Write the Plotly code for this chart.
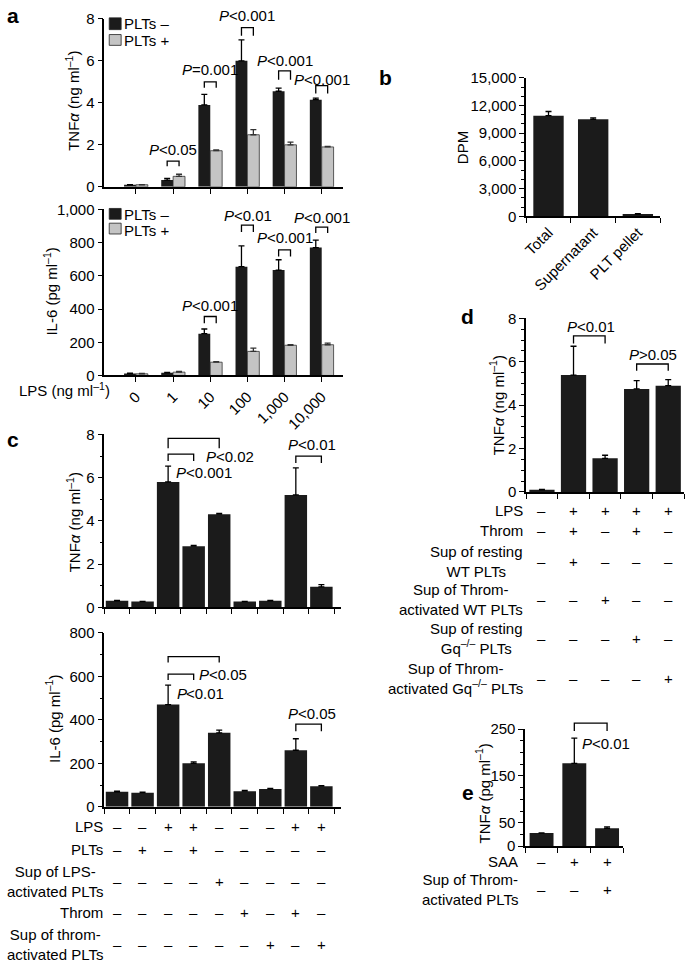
import plotly.graph_objects as go

W, H = 685, 971
FONT = "Liberation Sans, Arial, Helvetica, sans-serif"
BLACK = "#1b1b1b"
GRAY = "#c4c4c4"

# ---------------- data ----------------
# panel a
a_doses = ["0", "1", "10", "100", "1,000", "10,000"]
a_tnf_minus = [0.1, 0.32, 3.9, 6.0, 4.55, 4.15]
a_tnf_minus_err = [0.0, 0.08, 0.5, 1.0, 0.15, 0.07]
a_tnf_plus = [0.1, 0.5, 1.72, 2.48, 2.0, 1.9]
a_tnf_plus_err = [0.0, 0.1, 0.04, 0.24, 0.13, 0.03]
a_il6_minus = [12, 16, 252, 655, 635, 770]
a_il6_minus_err = [2, 3, 28, 125, 62, 45]
a_il6_plus = [10, 20, 80, 145, 182, 185]
a_il6_plus_err = [2, 4, 3, 20, 3, 10]
a_legend = ["PLTs \u2013", "PLTs +"]

# panel b
b_cats = ["Total", "Supernatant", "PLT pellet"]
b_vals = [10900, 10500, 250]
b_err = [450, 150, 30]

# panel c
c_tnf = [0.3, 0.27, 5.8, 2.83, 4.31, 0.27, 0.3, 5.2, 0.95]
c_tnf_err = [0.02, 0.01, 0.73, 0.04, 0.04, 0.01, 0.02, 1.25, 0.1]
c_il6 = [69, 65, 470, 200, 340, 72, 82, 260, 95]
c_il6_err = [3, 2, 90, 7, 13, 3, 3, 53, 2]
c_rows = ["LPS", "PLTs", "Sup of LPS-<br>activated PLTs", "Throm", "Sup of throm-<br>activated PLTs"]
c_signs = [
    "--++---++",
    "-+-+-----",
    "----+----",
    "-----+-+-",
    "------+-+",
]

# panel d
d_tnf = [0.1, 5.39, 1.55, 4.75, 4.9]
d_tnf_err = [0.02, 1.33, 0.14, 0.38, 0.28]
d_rows = ["LPS", "Throm", "Sup of resting<br>WT PLTs", "Sup of Throm-<br>activated WT PLTs",
          "Sup of resting<br>Gq<sup>\u2013/\u2013</sup> PLTs",
          "Sup of Throm-<br>activated Gq<sup>\u2013/\u2013</sup> PLTs"]
d_signs = ["-++++", "-+-+-", "-+---", "--+--", "---+-", "----+"]

# panel e
e_tnf = [28, 177, 38]
e_tnf_err = [0, 54, 3]
e_rows = ["SAA", "Sup of Throm-<br>activated PLTs"]
e_signs = ["-++", "--+"]

# significance labels
a_tnf_p = ["P<0.05", "P=0.001", "P<0.001", "P<0.001", "P<0.001"]
a_il6_p = ["P<0.001", "P<0.01", "P<0.001", "P<0.001"]

# ---------------- geometry helpers ----------------
def px_x(p):
    return p / W

def px_y(p):
    return 1 - p / H

AX = {
    # name: (x domain px, x range, y domain px (bottom, top), y range)
    "1": ((100, 340), (-0.853, 5.56), (181, 10), (0, 8)),
    "2": ((100, 340), (-0.853, 5.56), (373, 204), (0, 1000)),
    "3": ((525, 660), (-0.5, 2.5), (211, 70), (0, 15000)),
    "4": ((100, 338), (-0.5, 8.75), (609, 433), (0, 8)),
    "5": ((100, 338), (-0.5, 8.75), (812, 635), (0, 800)),
    "6": ((525, 684), (-0.5, 4.5), (491.5, 315), (0, 8)),
    "7": ((524, 623), (-0.5, 2.5), (852, 733), (0, 250)),
}

def to_paper(k, x, y):
    (xl, xr), (x0, x1), (yb, yt), (y0, y1) = AX[k]
    xd = [px_x(xl), px_x(xr)]
    yd = [px_y(yb), px_y(yt)]
    return (xd[0] + (x - x0) / (x1 - x0) * (xd[1] - xd[0]),
            yd[0] + (y - y0) / (y1 - y0) * (yd[1] - yd[0]))

def errs(arr, color="black"):
    return dict(type="data", symmetric=False, array=arr, arrayminus=[0] * len(arr),
                color=color, thickness=1.3, width=3)

fig = go.Figure()
ann = []
shapes = []

# approximate Arial/Liberation Sans advance widths (em units)
GLYPH_W = {"P": 0.667, "<": 0.584, ">": 0.584, "=": 0.584, ".": 0.278}

def text_w(s, size=15):
    return sum(GLYPH_W.get(ch, 0.556) for ch in s) * size

def bracket(k, x1, x2, ytop, yleg):
    pa = to_paper(k, x1, yleg)
    pb = to_paper(k, x1, ytop)
    pc = to_paper(k, x2, ytop)
    pd = to_paper(k, x2, yleg)
    path = "M%f,%f L%f,%f L%f,%f L%f,%f" % (pa[0], pa[1], pb[0], pb[1], pc[0], pc[1], pd[0], pd[1])
    shapes.append(dict(type="path", xref="paper", yref="paper", path=path,
                       line=dict(color="black", width=1.3)))

def label(xref, yref, x, y, text, xanchor="center", size=15, style="normal", pad=1):
    ann.append(dict(xref=xref, yref=yref, x=x, y=y, text=text, showarrow=False,
                    xanchor=xanchor, yanchor="middle", borderpad=pad, borderwidth=0,
                    font=dict(size=size, family=FONT, color="black", style=style)))

def plabel(k, x, y, text, xanchor="center"):
    px, py = to_paper(k, x, y)
    left = px - (text_w(text) / 2 / W if xanchor == "center" else 0)
    label("paper", "paper", left, py, text[0], xanchor="left", style="italic", pad=0)
    rest = text[1:].replace("<", "&lt;").replace(">", "&gt;")
    label("paper", "paper", left + text_w(text[0]) / W, py, rest, xanchor="left", pad=0)

# ---------------- panel a ----------------
ia = list(range(len(a_doses)))
fig.add_trace(go.Bar(x=ia, y=a_tnf_minus, error_y=errs(a_tnf_minus_err), width=0.32, offset=-0.32,
                     marker=dict(color=BLACK, line=dict(width=0)), xaxis="x", yaxis="y", showlegend=False))
fig.add_trace(go.Bar(x=ia, y=a_tnf_plus, error_y=errs(a_tnf_plus_err, "#333"), width=0.32, offset=0,
                     marker=dict(color=GRAY, line=dict(color="#333", width=0.8)), xaxis="x", yaxis="y", showlegend=False))
fig.add_trace(go.Bar(x=ia, y=a_il6_minus, error_y=errs(a_il6_minus_err), width=0.32, offset=-0.32,
                     marker=dict(color=BLACK, line=dict(width=0)), xaxis="x2", yaxis="y2", showlegend=False))
fig.add_trace(go.Bar(x=ia, y=a_il6_plus, error_y=errs(a_il6_plus_err, "#333"), width=0.32, offset=0,
                     marker=dict(color=GRAY, line=dict(color="#333", width=0.8)), xaxis="x2", yaxis="y2", showlegend=False))

for g, top, leg, ty, t in zip([1, 2, 3, 4, 5], [1.22, 5.0, 7.58, 5.52, 4.82], [0.98, 4.72, 7.2, 5.1, 4.44],
                              [1.78, 5.57, 8.14, 6.03, 5.1], a_tnf_p):
    bracket("1", g - 0.16, g + 0.16, top, leg)
    plabel("1", g, ty, t)
for g, top, leg, ty, t in zip([2, 3, 4, 5], [355, 905, 757, 893], [314, 864, 716, 858],
                              [420, 965, 828, 953], a_il6_p):
    bracket("2", g - 0.16, g + 0.16, top, leg)
    plabel("2", g, ty, t)

# legends (drawn)
for (t0, t1, col) in [(9, 21, BLACK), (26, 37, GRAY), (203, 214, BLACK), (218, 229, GRAY)]:
    shapes.append(dict(type="rect", xref="paper", yref="paper", x0=px_x(105), x1=px_x(117),
                       y0=px_y(t1), y1=px_y(t0), fillcolor=col, line=dict(color="#222", width=0.8)))
for txt_y, t in zip([15, 32, 209, 225], a_legend * 2):
    label("paper", "paper", px_x(119), px_y(txt_y), t, xanchor="left")

label("paper", "paper", px_x(107), px_y(387), "LPS (ng ml<sup>\u20131</sup>)", xanchor="right")

# ---------------- panel b ----------------
fig.add_trace(go.Bar(x=b_cats, y=b_vals, error_y=errs(b_err), width=0.68,
                     marker=dict(color=BLACK, line=dict(width=0)), xaxis="x3", yaxis="y3", showlegend=False))

# ---------------- panel c ----------------
ic = list(range(len(c_tnf)))
fig.add_trace(go.Bar(x=ic, y=c_tnf, error_y=errs(c_tnf_err), width=0.88,
                     marker=dict(color=BLACK, line=dict(width=0)), xaxis="x4", yaxis="y4", showlegend=False))
fig.add_trace(go.Bar(x=ic, y=c_il6, error_y=errs(c_il6_err), width=0.88,
                     marker=dict(color=BLACK, line=dict(width=0)), xaxis="x5", yaxis="y5", showlegend=False))
bracket("4", 2, 4, 7.82, 7.36)
bracket("4", 2, 3, 7.09, 6.77)
bracket("4", 7, 8, 7.0, 6.68)
plabel("4", 2.3, 6.23, "P<0.001", xanchor="left")
plabel("4", 3.5, 7.0, "P<0.02", xanchor="left")
plabel("4", 7.63, 7.55, "P<0.01")
bracket("5", 2, 4, 691, 664)
bracket("5", 2, 3, 610, 583)
bracket("5", 7, 8, 380, 348)
plabel("5", 2.33, 520, "P<0.01", xanchor="left")
plabel("5", 3.2, 610, "P<0.05", xanchor="left")
plabel("5", 7.63, 429, "P<0.05")

c_row_y = [832, 855, 888, 920, 952]
for r, yy, s in zip(c_rows, c_row_y, c_signs):
    label("paper", "paper", px_x(100), px_y(yy), r, xanchor="right")
    for i, ch in enumerate(s):
        label("x5", "paper", i, px_y(yy), "+" if ch == "+" else "\u2013")

# ---------------- panel d ----------------
idd = list(range(len(d_tnf)))
fig.add_trace(go.Bar(x=idd, y=d_tnf, error_y=errs(d_tnf_err), width=0.8,
                     marker=dict(color=BLACK, line=dict(width=0)), xaxis="x6", yaxis="y6", showlegend=False))
bracket("6", 1, 2, 7.2, 6.85)
bracket("6", 3, 4, 5.9, 5.59)
plabel("6", 1.56, 7.62, "P<0.01")
plabel("6", 3.5, 6.36, "P>0.05")
d_row_y = [510, 531, 562, 601, 641, 681]
for r, yy, s in zip(d_rows, d_row_y, d_signs):
    label("paper", "paper", px_x(523), px_y(yy), r, xanchor="right")
    for i, ch in enumerate(s):
        label("x6", "paper", i, px_y(yy), "+" if ch == "+" else "\u2013")

# ---------------- panel e ----------------
ie = list(range(len(e_tnf)))
fig.add_trace(go.Bar(x=ie, y=e_tnf, error_y=errs(e_tnf_err), width=0.73,
                     marker=dict(color=BLACK, line=dict(width=0)), xaxis="x7", yaxis="y7", showlegend=False))
bracket("7", 1, 2, 263, 246)
plabel("7", 1.24, 220, "P<0.01", xanchor="left")
e_row_y = [868, 896]
for r, yy, s in zip(e_rows, e_row_y, e_signs):
    label("paper", "paper", px_x(518), px_y(yy), r, xanchor="right")
    for i, ch in enumerate(s):
        label("x7", "paper", i, px_y(yy), "+" if ch == "+" else "\u2013")

# ---------------- axis titles & panel letters ----------------
for (x, y, t) in [(68, 94, "TNF<i>\u03b1</i> (ng ml<sup>\u20131</sup>)"),
                  (46, 288, "IL-6 (pg ml<sup>\u20131</sup>)"),
                  (461, 141, "DPM"),
                  (69, 522, "TNF<i>\u03b1</i> (ng ml<sup>\u20131</sup>)"),
                  (48, 723, "IL-6 (pg ml<sup>\u20131</sup>)"),
                  (496, 403, "TNF<i>\u03b1</i> (ng ml<sup>\u20131</sup>)"),
                  (481, 798, "TNF<i>\u03b1</i> (pg ml<sup>\u20131</sup>)")]:
    ann.append(dict(xref="paper", yref="paper", x=px_x(x), y=px_y(y), text=t, textangle=-90,
                    showarrow=False, xanchor="center", yanchor="middle",
                    font=dict(size=15, family=FONT, color="black")))
for (x, y, t) in [(8, 7, "a"), (383, 70, "b"), (8, 438, "c"), (466, 313, "d"), (466, 797, "e")]:
    ann.append(dict(xref="paper", yref="paper", x=px_x(x), y=px_y(y), text=t,
                    showarrow=False, xanchor="center", yanchor="middle",
                    font=dict(size=21, family=FONT, color="black", weight="bold")))

# ---------------- axes ----------------
def base(**kw):
    d = dict(showline=True, linecolor="black", linewidth=1.5, ticks="outside", ticklen=5,
             tickwidth=1.3, tickcolor="black", showgrid=False, zeroline=False,
             tickfont=dict(size=15, family=FONT, color="black"), fixedrange=True)
    d.update(kw)
    return d

def minor(dt):
    return dict(dtick=dt, ticks="outside", ticklen=3, tickwidth=1, tickcolor="black", showgrid=False)

def xd(k):
    return [px_x(AX[k][0][0]), px_x(AX[k][0][1])]

def yd(k):
    return [px_y(AX[k][2][0]), px_y(AX[k][2][1])]

lay = dict(
    xaxis=base(domain=xd("1"), anchor="y", range=list(AX["1"][1]), tickvals=ia, showticklabels=False),
    yaxis=base(domain=yd("1"), anchor="x", range=list(AX["1"][3]), tickvals=[0, 2, 4, 6, 8]),
    xaxis2=base(domain=xd("2"), anchor="y2", range=list(AX["2"][1]), tickvals=ia,
                ticktext=a_doses, tickangle=-45),
    yaxis2=base(domain=yd("2"), anchor="x2", range=list(AX["2"][3]),
                tickvals=[0, 200, 400, 600, 800, 1000], tickformat=","),
    xaxis3=base(domain=xd("3"), anchor="y3", type="category", range=list(AX["3"][1]),
                tickson="boundaries", tickangle=-45),
    yaxis3=base(domain=yd("3"), anchor="x3", range=list(AX["3"][3]),
                tickvals=[0, 3000, 6000, 9000, 12000, 15000], tickformat=",", minor=minor(1000)),
    xaxis4=base(domain=xd("4"), anchor="y4", range=list(AX["4"][1]),
                tickvals=[i - 0.5 for i in range(10)], showticklabels=False),
    yaxis4=base(domain=yd("4"), anchor="x4", range=list(AX["4"][3]), tickvals=[0, 2, 4, 6, 8],
                minor=minor(1)),
    xaxis5=base(domain=xd("5"), anchor="y5", range=list(AX["5"][1]),
                tickvals=[i - 0.5 for i in range(10)], showticklabels=False),
    yaxis5=base(domain=yd("5"), anchor="x5", range=list(AX["5"][3]), tickvals=[0, 200, 400, 600, 800],
                minor=minor(100)),
    xaxis6=base(domain=xd("6"), anchor="y6", range=list(AX["6"][1]),
                tickvals=[i - 0.5 for i in range(6)], showticklabels=False),
    yaxis6=base(domain=yd("6"), anchor="x6", range=list(AX["6"][3]), tickvals=[0, 2, 4, 6, 8],
                minor=minor(0.5)),
    xaxis7=base(domain=xd("7"), anchor="y7", range=list(AX["7"][1]),
                tickvals=[i - 0.5 for i in range(4)], showticklabels=False),
    yaxis7=base(domain=yd("7"), anchor="x7", range=list(AX["7"][3]), tickvals=[0, 50, 150, 250],
                minor=minor(25)),
)

fig.update_layout(width=W, height=H, autosize=False, margin=dict(l=0, r=0, t=0, b=0),
                  paper_bgcolor="white", plot_bgcolor="white", barmode="overlay",
                  showlegend=False, hovermode=False, annotations=ann, shapes=shapes,
                  font=dict(family=FONT, size=15, color="black"), **lay)

fig.write_html("out.html", config={"displayModeBar": False},
               post_script="document.body.style.margin='0px';")
